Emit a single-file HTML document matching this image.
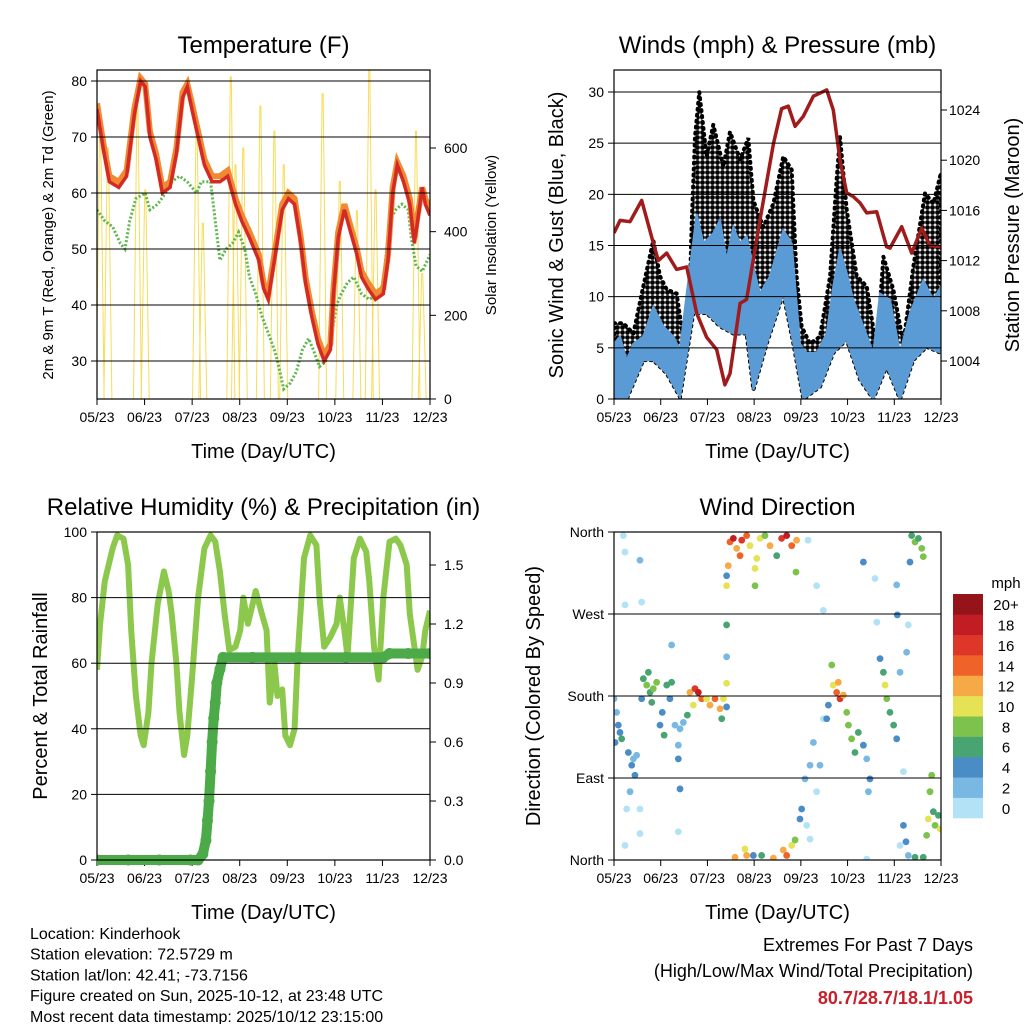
<!DOCTYPE html>
<html><head><meta charset="utf-8"><style>
html,body{margin:0;padding:0;background:#fff;}
svg{display:block;font-family:"Liberation Sans",sans-serif;}
</style></head><body>
<svg id="chart" width="1024" height="1024" viewBox="0 0 1024 1024" xmlns="http://www.w3.org/2000/svg">
<defs>
<pattern id="dots" width="5" height="5" patternUnits="userSpaceOnUse"><circle cx="2.5" cy="2.5" r="2.4" fill="#000"/></pattern>
</defs>
</svg>
<script>
// ---- Temperature panel data ----
const tDays=[0,4,8,14,19,24,28,31,34,38,42,47,51,55,58,61,65,69,74,79,84,89,93,98,104,107,110,114,119,123,127,131,134,138,142,146,150,152,155,159,163,167,170,174,179,184,187,190,193,197,201,204,206,209,211,214];
const tempRed=[75,68,62,61,63,74,80,79,70,66,60,61,67,77,79,75,70,65,62,62,63,58,55,52,48,43,41,48,57,59,58,51,44,38,33,30,32,42,52,57,53,49,45,43,41,42,48,60,65,62,58,51,55,61,58,56];
const temp9m=[76,69,63,62,64,75,80.5,79.5,71,67,61,62,68,78,79.5,76,71,66,63,63,64,59,56,53,49,44,42,49,58,60,59,52,45,39,34,31,33,43,53,58,54,50,46,44,42,43,49,61,65.5,63,59,52,56,61,59,57];
const dDays=[0,5,10,15,18,21,25,31,34,39,44,48,53,58,64,67,73,76,79,83,87,91,95,98,102,106,110,114,116,120,124,128,132,136,139,143,147,151,154,157,161,165,170,175,181,184,188,192,196,200,202,205,209,214];
const dewGreen=[57,55,54,51,50,55,59,60,57,58,60,62,63,62,60,62,62,55,48,50,51,53,50,45,42,38,35,32,30,25,26,28,32,34,32,29,30,35,40,42,44,45,42,41,42,44,55,57,58,57,52,47,46,49];
const solarDays=[2,7,26,31,64,68,86,89,94,105,114,120,145,156,167,175,179,205,209];
const solarPeak=[650,600,700,500,660,420,770,560,600,700,640,560,730,520,450,790,500,640,300];
const tempTicks=[30,40,50,60,70,80];
const solarTicks=[0,200,400,600];
const monthLabels=["05/23","06/23","07/23","08/23","09/23","10/23","11/23","12/23"];
// ---- Wind panel data ----
const gustDays=[0,6.1,12.7,19.2,25.7,30.1,34.5,41,45.4,48.6,50.8,53,55.8,60.6,65,71.6,75.9,82.5,87.9,91.2,97.7,104.3,110.8,116.3,119.5,122.8,128.3,134.8,141.4,145.7,147.9,152.3,158.8,165.4,171.9,176.3,182.8,189.4,195.9,203.5,209,214];
const gustMax=[7.4,7.4,6.4,11,15.5,12,10.7,10.3,5.8,5.4,16.8,25.6,30,23.7,26.8,22.7,26.1,23.4,25.5,19.4,16.8,19.1,23.7,22.4,12,7.1,5.4,6.1,12,21.4,25.6,18.5,12,11,4.8,13.9,10.7,5.4,12.9,20.1,19.1,22.1];
const windTopDays=[0,3.9,8.3,12.7,19.2,25.7,32.3,38.8,43.2,47.6,54.1,58.5,65,69.4,73.7,78.1,82.5,86.8,91.2,95.5,102.1,110.8,116.3,121.7,126.1,132.6,139.2,143.5,147.9,152.3,156.6,163.2,169.7,174.1,180.6,187.2,193.7,202.4,209,214];
const windMax=[5.4,6.1,3.8,5.4,6.1,9,7.1,6.1,4.8,10.3,18.1,15.2,16.2,17.5,13.6,16.8,15.2,15.9,12.9,10.3,12,16.5,15.2,5.4,4.5,4.5,6.4,11,14.6,12.3,9.7,7.1,4.5,10.3,9.7,4.5,8.4,11.6,9.7,11];
const windBotDays=[0,8.3,19.2,25.7,34.5,43.2,51.9,60.6,69.4,78.1,86.8,91.2,99.9,110.8,117.4,123.9,134.8,143.5,152.3,161,169.7,178.4,187.2,195.9,204.6,214];
const windMin=[0.2,0,3.8,3.8,2.5,0.2,8.4,8.4,7.1,6.4,6.4,0.9,5.4,10.3,5.4,0,1.2,4.5,5.8,1.9,0,3.2,0,3.8,5.1,4.5];
const pDays=[0,4,10.5,18.1,25.7,29,34.5,41,47.6,54.1,60.6,67.2,72.6,75.9,82.5,86.8,95.5,104.3,109.7,114.1,118.5,123.9,130.5,139.2,143.5,147.9,152.3,156.6,161,165.4,171.9,178.4,180.6,188.3,194.8,201.4,206.8,214];
const pressure=[1014.2,1015.2,1015.1,1016.8,1013.4,1012,1012.6,1011.3,1011.5,1007.8,1005.9,1004.9,1002.1,1003,1008.6,1008.9,1015.2,1021.3,1024.1,1024.3,1022.7,1023.5,1025.1,1025.6,1024,1020,1017.4,1017.1,1016.6,1015.8,1015.9,1013.1,1013,1014.7,1012.6,1014.6,1013.2,1013.1];
const windTicks=[0,5,10,15,20,25,30];
const presTicks=[1004,1008,1012,1016,1020,1024];
// ---- RH panel data ----
const rhDays=[0,2,5,10,13,17,20,22,25,28,30,33,35,39,43,46,48,51,53,56,58,61,65,69,73,76,79,82,85,89,92,94,97,100,102,106,109,111,114,116,119,121,124,127,129,133,137,141,143,146,150,154,156,159,161,165,169,173,175,178,181,184,188,192,195,199,201,204,206,209,211,214];
const rhVals=[58,72,85,95,99,98,90,70,50,38,35,45,60,78,88,82,75,60,45,32,38,55,80,95,99,97,88,75,64,65,70,80,72,78,82,75,70,48,60,50,52,38,35,40,62,92,99,96,80,65,68,72,80,70,62,92,98,94,85,65,55,80,97,98,96,90,75,65,58,62,70,76];
const prDays=[0,20,40,60,65,68,70,71,72,73,74,75,76,77,79,81,100,130,160,184,188,200,214];
const prVals=[0,0,0,0,0,0.03,0.1,0.2,0.3,0.45,0.6,0.72,0.8,0.9,0.97,1.03,1.03,1.03,1.03,1.03,1.05,1.05,1.05];
const rhTicks=[0,20,40,60,80,100];
const prTicks=[0,0.3,0.6,0.9,1.2,1.5];
// ---- Wind direction data ----
const wdDays=[0.7,2.8,3.9,5,1.7,0,9.4,11.6,13.7,12.7,14.8,10.5,8.3,17,7.2,19.2,21.4,23.6,25.7,18.1,22.5,24.7,27.9,30.1,32.8,31.6,34.5,37.7,36.6,39.9,43.2,45.4,42.1,42.1,37.7,43.2,49.7,53,55.2,57.4,60.6,62.8,66.1,69.4,71.6,51.9,70.5,73.7,48,73.7,73.7,73.7,75.9,78.1,80.3,83.6,86.8,89,93.4,95.6,98.8,102.1,106.5,109.7,113,116.3,119.5,74.8,92.3,82.5,73.7,73.7,119.1,92.3,79.2,85.7,86.8,91.2,96.6,104.3,110.8,113,116.3,118.5,121.7,122.8,125,128.3,130.5,132.6,126.1,128.3,134.8,137,139.2,142.5,143.5,145.7,147.9,150.1,152.3,140.3,146.8,153.4,155.5,157.7,159.9,163.2,165.4,167.5,166.5,174.1,176.3,177.4,178.5,180.6,183,185,187.2,191.5,194.8,197,199.2,201.4,202.4,193.7,189.4,191.1,192.6,187.2,207.9,206.8,209,205.7,210.1,213.4,212.3,204.6,197,202.4,6.1,7.2,17,7.2,18.1,42.1,17,127,132.6,137,163.2,170.8,172,185,185.4,192.6,189.4,165.4];
const wdDir=[129,148,140,133,162,177,118,104,93,111,115,75,56,56,16,199,192,184,188,177,206,173,195,148,137,162,192,195,177,148,144,151,111,126,236,78,184,188,184,177,177,170,177,166,177,170,155,168,159,258,223,194,349,353,342,351,356,345,331,353,356,345,334,353,356,345,351,323,320,334,301,312,316,301,3,12,5,5,5,2,11,5,16,22,45,56,89,104,129,75,38,23,104,155,155,214,192,184,177,181,162,170,195,148,133,118,140,126,111,89,75,221,206,192,177,162,148,133,206,228,356,349,353,342,333,327,38,20,5,16,93,75,53,45,38,34,49,27,3,3,356,338,329,280,283,31,29,351,301,274,327,309,261,302,269,258,97,1];
const wdSpd=[4,4,4,6,2,2,4,4,4,2,2,2,0,0,0,6,8,6,8,4,6,6,8,4,6,4,6,6,4,2,2,2,4,2,2,4,12,16,18,14,10,12,14,12,10,10,6,4,6,6,2,10,14,18,12,16,14,10,10,10,8,12,6,16,18,14,12,12,10,14,10,4,8,8,12,10,12,4,6,12,12,14,10,8,4,4,2,2,2,0,0,0,2,0,4,8,10,14,16,12,8,4,12,8,8,6,6,4,2,4,2,4,6,10,8,6,6,4,2,2,6,8,6,8,8,4,4,4,2,0,8,8,6,10,8,10,6,8,6,6,0,0,2,0,0,0,0,0,0,0,4,0,0,2,4,0,0,0];
const speedColors=["#b3e2f7","#7ab8e4","#4a8cc6","#48a572","#7cc24c","#e5e256","#f6a944","#ef6329","#de3628","#c21d24","#95141a"];
const speedLabels=["0","2","4","6","8","10","12","14","16","18","20+"];
const dirLabels=["North","East","South","West","North"];

const NS="http://www.w3.org/2000/svg";
const svg=document.getElementById('chart');
function mk(tag,attrs,name,parent){
  const el=document.createElementNS(NS,tag);
  for(const k in attrs) el.setAttribute(k,attrs[k]);
  
  
  (parent||svg).appendChild(el);
  return el;
}
function txt(x,y,s,size,anchor,name,extra){
  const a=Object.assign({x:x,y:y,'font-size':size,'text-anchor':anchor||'middle',fill:'#000'},extra||{});
  const t=mk('text',a,name);
  t.textContent=s;
  return t;
}
function lin(d0,d1,p0,p1){return v=>p0+(v-d0)*(p1-p0)/(d1-d0);}
function pathOf(xs,ys,fx,fy){return xs.map((d,i)=>(i?'L':'M')+fx(d).toFixed(1)+','+fy(ys[i]).toFixed(1)).join('');}
function bandOf(tx,ty,bx,by,fx,fy){
  let d=pathOf(tx,ty,fx,fy);
  for(let i=bx.length-1;i>=0;i--) d+='L'+fx(bx[i]).toFixed(1)+','+fy(by[i]).toFixed(1);
  return d+'Z';
}

function frame(x0,y0,x1,y1,name,title,xTitle){
  txt((x0+x1)/2,y0-17,title,24,'middle',name+'-title');
  txt((x0+x1)/2,y1+59,xTitle,20,'middle',name+'-x-axis-title');
  const fx=lin(0,7,x0,x1);
  monthLabels.forEach((m,i)=>{
    const x=fx(i);
    mk('line',{x1:x,y1:y1,x2:x,y2:y1+6,stroke:'#000'},name+'-x-tick');
    txt(x,y1+23,m,14,'middle',name+'-x-tick-label');
  });
}
function box(x0,y0,x1,y1,name){mk('rect',{x:x0,y:y0,width:x1-x0,height:y1-y0,fill:'none',stroke:'#000','stroke-width':1.2},name);}

// ===== Panel 1: Temperature =====
(function(){
  const x0=97,x1=430,y0=70,y1=399;
  const fx=lin(0,214,x0,x1), fy=lin(30,80,361,81), fs=lin(0,600,399,148);
  frame(x0,y0,x1,y1,'temp','Temperature (F)','Time (Day/UTC)');
  const cp=mk('clipPath',{id:'c1'},'temp-clip');mk('rect',{x:x0,y:y0,width:x1-x0,height:y1-y0},'temp-clip-rect',cp);
  const g=mk('g',{'clip-path':'url(#c1)'},'temp-plot-area');
  tempTicks.forEach(v=>{
    mk('line',{x1:x0,y1:fy(v),x2:x1,y2:fy(v),stroke:'#000','stroke-width':1},'temp-gridline');
    mk('line',{x1:x0-6,y1:fy(v),x2:x0,y2:fy(v),stroke:'#000'},'temp-y-tick');
    txt(x0-10,fy(v)+5,String(v),14,'end','temp-y-tick-label');
  });
  solarTicks.forEach(v=>{
    mk('line',{x1:x1,y1:fs(v),x2:x1+6,y2:fs(v),stroke:'#000'},'solar-y-tick');
    txt(x1+14,fs(v)+5,String(v),14,'start','solar-y-tick-label');
  });
  solarDays.forEach((d,i)=>{
    const x=fx(d);
    mk('path',{d:`M${x-4},${y1}L${x-0.5},${fs(solarPeak[i])}L${x+0.5},${fs(solarPeak[i])}L${x+4},${y1}`,fill:'none',stroke:'#f7dc5a','stroke-width':1},'solar-insolation-spike',g);
  });
  mk('path',{d:pathOf(dDays,dewGreen,fx,fy),fill:'none',stroke:'#5cb84a','stroke-width':3,'stroke-dasharray':'2 2'},'dewpoint-line',g);
  mk('path',{d:pathOf(tDays,temp9m,fx,fy),fill:'none',stroke:'#f08a30','stroke-width':6},'temp-9m-line',g);
  mk('path',{d:pathOf(tDays,tempRed,fx,fy),fill:'none',stroke:'#d42a26','stroke-width':3.5},'temp-2m-line',g);
  box(x0,y0,x1,y1,'temp-plot-frame');
  txt(0,0,'2m & 9m T (Red, Orange) & 2m Td (Green)',15,'middle','temp-y-axis-title',{transform:'translate(53,235) rotate(-90)'});
  txt(0,0,'Solar Insolation (Yellow)',15,'middle','solar-y-axis-title',{transform:'translate(496,235) rotate(-90)'});
})();

// ===== Panel 2: Winds & Pressure =====
(function(){
  const x0=614,x1=941,y0=70,y1=399;
  const fx=lin(0,214,x0,x1), fy=lin(0,30,399,92), fp=lin(1004,1024,361,110);
  frame(x0,y0,x1,y1,'wind','Winds (mph) & Pressure (mb)','Time (Day/UTC)');
  const cp=mk('clipPath',{id:'c2'},'wind-clip');mk('rect',{x:x0,y:y0,width:x1-x0,height:y1-y0},'wind-clip-rect',cp);
  const g=mk('g',{'clip-path':'url(#c2)'},'wind-plot-area');
  windTicks.forEach(v=>{
    mk('line',{x1:x0,y1:fy(v),x2:x1,y2:fy(v),stroke:'#000'},'wind-gridline');
    mk('line',{x1:x0-6,y1:fy(v),x2:x0,y2:fy(v),stroke:'#000'},'wind-y-tick');
    txt(x0-10,fy(v)+5,String(v),14,'end','wind-y-tick-label');
  });
  presTicks.forEach(v=>{
    mk('line',{x1:x1,y1:fp(v),x2:x1+6,y2:fp(v),stroke:'#000'},'pressure-y-tick');
    txt(x1+8,fp(v)+5,String(v),14,'start','pressure-y-tick-label');
  });
  mk('path',{d:bandOf(gustDays,gustMax,windBotDays,windMin,fx,fy),fill:'url(#dots)',stroke:'#000','stroke-width':4,'stroke-dasharray':'1 5','stroke-linecap':'round'},'gust-points',g);
  mk('path',{d:bandOf(windTopDays,windMax,windBotDays,windMin,fx,fy),fill:'#5b9bd5',stroke:'#5b9bd5','stroke-width':2},'sonic-wind-points',g);
  mk('path',{d:pathOf(pDays,pressure,fx,fp),fill:'none',stroke:'#a01c1c','stroke-width':3.5,'stroke-linejoin':'round'},'pressure-line',g);
  box(x0,y0,x1,y1,'wind-plot-frame');
  txt(0,0,'Sonic Wind & Gust (Blue, Black)',20,'middle','wind-y-axis-title',{transform:'translate(563,235) rotate(-90)'});
  txt(0,0,'Station Pressure (Maroon)',20,'middle','pressure-y-axis-title',{transform:'translate(1019,235) rotate(-90)'});
})();

// ===== Panel 3: RH & Precip =====
(function(){
  const x0=97,x1=430,y0=532,y1=860;
  const fx=lin(0,214,x0,x1), fy=lin(0,100,860,532), fp=lin(0,1.5,860,565);
  frame(x0,y0,x1,y1,'rh','Relative Humidity (%) & Precipitation (in)','Time (Day/UTC)');
  const cp=mk('clipPath',{id:'c3'},'rh-clip');mk('rect',{x:x0,y:y0-6,width:x1-x0,height:y1-y0+12},'rh-clip-rect',cp);
  const g=mk('g',{'clip-path':'url(#c3)'},'rh-plot-area');
  rhTicks.forEach(v=>{
    mk('line',{x1:x0,y1:fy(v),x2:x1,y2:fy(v),stroke:'#000'},'rh-gridline');
    mk('line',{x1:x0-6,y1:fy(v),x2:x0,y2:fy(v),stroke:'#000'},'rh-y-tick');
    txt(x0-10,fy(v)+5,String(v),14,'end','rh-y-tick-label');
  });
  prTicks.forEach(v=>{
    mk('line',{x1:x1,y1:fp(v),x2:x1+6,y2:fp(v),stroke:'#000'},'precip-y-tick');
    txt(x1+14,fp(v)+5,v.toFixed(1),14,'start','precip-y-tick-label');
  });
  mk('path',{d:pathOf(rhDays,rhVals,fx,fy),fill:'none',stroke:'#8cc84b','stroke-width':6,'stroke-linejoin':'round'},'relative-humidity-line',g);
  mk('path',{d:pathOf(prDays,prVals,fx,fp),fill:'none',stroke:'#4cab48','stroke-width':10,'stroke-linecap':'round','stroke-linejoin':'round'},'precipitation-line',g);
  prDays.forEach((d,i)=>{
    mk('circle',{cx:fx(d),cy:fp(prVals[i]),r:5.5,fill:'#4cab48'},'precipitation-point',g);
  });
  box(x0,y0,x1,y1,'rh-plot-frame');
  txt(0,0,'Percent & Total Rainfall',20,'middle','rh-y-axis-title',{transform:'translate(47,696) rotate(-90)'});
})();

// ===== Panel 4: Wind Direction =====
(function(){
  const x0=614,x1=941,y0=532,y1=860;
  const fx=lin(0,214,x0,x1), fy=lin(0,360,860,532);
  frame(x0,y0,x1,y1,'wdir','Wind Direction','Time (Day/UTC)');
  const cp=mk('clipPath',{id:'c4'},'wdir-clip');mk('rect',{x:x0,y:y0,width:x1-x0,height:y1-y0},'wdir-clip-rect',cp);
  const g=mk('g',{'clip-path':'url(#c4)'},'wdir-plot-area');
  dirLabels.forEach((l,i)=>{
    const y=fy(i*90);
    mk('line',{x1:x0,y1:y,x2:x1,y2:y,stroke:'#000'},'wdir-gridline');
    mk('line',{x1:x0-6,y1:y,x2:x0,y2:y,stroke:'#000'},'wdir-y-tick');
    txt(x0-10,y+5,l,14,'end','wdir-y-tick-label');
  });
  wdDays.forEach((d,i)=>{
    const c=speedColors[Math.min(10,Math.floor(wdSpd[i]/2))];
    mk('circle',{cx:fx(d),cy:fy(wdDir[i]),r:3.4,fill:c},'wind-direction-point',g);
  });
  box(x0,y0,x1,y1,'wdir-plot-frame');
  txt(0,0,'Direction (Colored By Speed)',20,'middle','wdir-y-axis-title',{transform:'translate(540,696) rotate(-90)'});
  txt(1006,588,'mph',15,'middle','colorbar-title');
  const bh=224/11;
  speedColors.forEach((c,i)=>{
    const y=818-(i+1)*bh;
    mk('rect',{x:953,y:y,width:30,height:bh+0.3,fill:c},'colorbar-swatch');
    txt(1006,y+bh/2+6,speedLabels[i],15,'middle','colorbar-label');
  });
})();

// ===== Footer text =====
const info=["Location: Kinderhook","Station elevation: 72.5729 m","Station lat/lon: 42.41; -73.7156","Figure created on Sun, 2025-10-12, at 23:48 UTC","Most recent data timestamp: 2025/10/12 23:15:00"];
info.forEach((s,i)=>txt(30,939+i*20.7,s,16,'start','station-info-line'));
txt(973,951,'Extremes For Past 7 Days',18,'end','extremes-title');
txt(973,977,'(High/Low/Max Wind/Total Precipitation)',18,'end','extremes-subtitle');
txt(973,1004,'80.7/28.7/18.1/1.05',18,'end','extremes-values',{fill:'#c8202a','font-weight':'bold'});
</script>
</body></html>
